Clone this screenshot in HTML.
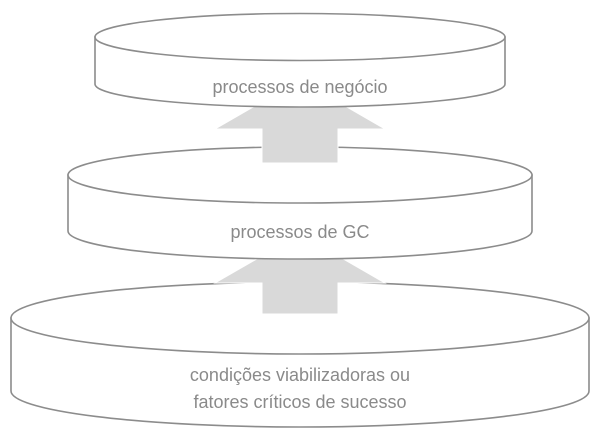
<!DOCTYPE html>
<html><head><meta charset="utf-8"><style>body{margin:0;background:#fff}svg{display:block}</style></head><body>
<svg width="600" height="440" viewBox="0 0 600 440" xmlns="http://www.w3.org/2000/svg">
<g fill="#fff" stroke="#8c8c8c" stroke-width="1.6">
<path d="M11,318 L11,391 A289,36 0 0 0 589,391 L589,318 Z"/>
<ellipse cx="300" cy="318" rx="289" ry="36"/>
</g>
<polygon points="262,314 262,283 215,283 300,234 385,283 338,283 338,314" fill="#d9d9d9" stroke="#fff" stroke-width="1"/>
<g fill="#fff" stroke="#8c8c8c" stroke-width="1.6">
<path d="M68,175 L68,231 A232,28 0 0 0 532,231 L532,175 Z"/>
<ellipse cx="300" cy="175" rx="232" ry="28"/>
</g>
<polygon points="262,163 262,129 215,129 300,80 385,129 338,129 338,163" fill="#d9d9d9" stroke="#fff" stroke-width="1"/>
<g fill="#fff" stroke="#8c8c8c" stroke-width="1.6">
<path d="M95,37 L95,84 A205,23 0 0 0 505,84 L505,37 Z"/>
<ellipse cx="300" cy="37" rx="205" ry="23.5"/>
</g>
<g font-family="Liberation Sans, sans-serif" font-size="18" fill="#8a8a8a" text-anchor="middle">
<text x="300" y="93">processos de negócio</text>
<text x="300" y="238">processos de GC</text>
<text x="300" y="381">condições viabilizadoras ou</text>
<text x="300" y="408">fatores críticos de sucesso</text>
</g>
</svg>
</body></html>
